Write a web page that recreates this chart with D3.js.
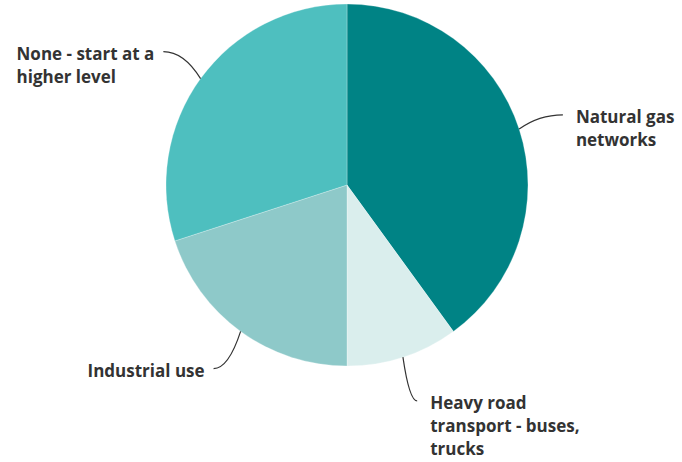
<!DOCTYPE html>
<html>
<head>
<meta charset="utf-8">
<script src="https://cdn.jsdelivr.net/npm/d3@7"></script>
<style>
  html, body { margin: 0; padding: 0; background: #fff; }
  svg { display: block; }
  .lbl { font-family: "Open Sans", sans-serif; font-weight: 700; font-size: 17px; fill: #333; }
</style>
</head>
<body>
<svg id="chart" width="682" height="462"></svg>
<script>
// Shares of hydrogen use, clockwise from 12 o'clock
const categories = [
  "Natural gas networks",
  "Heavy road transport - buses, trucks",
  "Industrial use",
  "None - start at a higher level"
];
const values = [40, 10, 20, 30];
const labelLines = [
  ["Natural gas", "networks"],
  ["Heavy road", "transport - buses,", "trucks"],
  ["Industrial use"],
  ["None - start at a", "higher level"]
];
const colors = ["#008385", "#daeeed", "#8ec9c9", "#4ebfbf"];

const svg = d3.select("#chart");
const cx = 347, cy = 185, R = 181, Rend = 227;

const color = d3.scaleOrdinal().domain(categories).range(colors);
const pie = d3.pie().sort(null).value(d => d.value);
const arcs = pie(categories.map((c, i) => ({ name: c, value: values[i], lines: labelLines[i] })));
const arc = d3.arc().innerRadius(0).outerRadius(R);

const g = svg.append("g").attr("transform", `translate(${cx},${cy})`);

g.selectAll("path.slice")
  .data(arcs)
  .join("path")
  .attr("class", "slice")
  .attr("d", arc)
  .attr("fill", d => color(d.data.name))
  .attr("stroke", "#ffffff")
  .attr("stroke-opacity", 0.35)
  .attr("stroke-width", 0.8);

// Leader lines: run out along the slice's middle angle, bending level at the end
function polar(r, a) { return [r * Math.sin(a), -r * Math.cos(a)]; }

arcs.forEach(d => {
  const a = (d.startAngle + d.endAngle) / 2;
  const s = polar(R, a);
  const e = polar(Rend, a);
  const c = [s[0] + (e[0] - s[0]) * 0.45, e[1]];
  const path = d3.path();
  path.moveTo(s[0], s[1]);
  path.quadraticCurveTo(c[0], c[1], e[0], e[1]);
  g.append("path")
    .attr("d", path.toString())
    .attr("fill", "none")
    .attr("stroke", "#333")
    .attr("stroke-width", 1.2);

  // Label block is left-aligned; on the left side it sits so its widest line ends at the leader
  const right = e[0] > 0;
  const t = g.append("text")
    .attr("class", "lbl")
    .attr("y", e[1] + 8);
  const spans = d.data.lines.map((ln, i) =>
    t.append("tspan").attr("dy", i === 0 ? 0 : 23).text(ln));
  let tx;
  if (right) {
    tx = e[0] + 13;
  } else {
    const w = d3.max(spans, sp => sp.node().getComputedTextLength());
    tx = e[0] - 9 - w;
  }
  spans.forEach(sp => sp.attr("x", tx));
});
</script>
</body>
</html>
